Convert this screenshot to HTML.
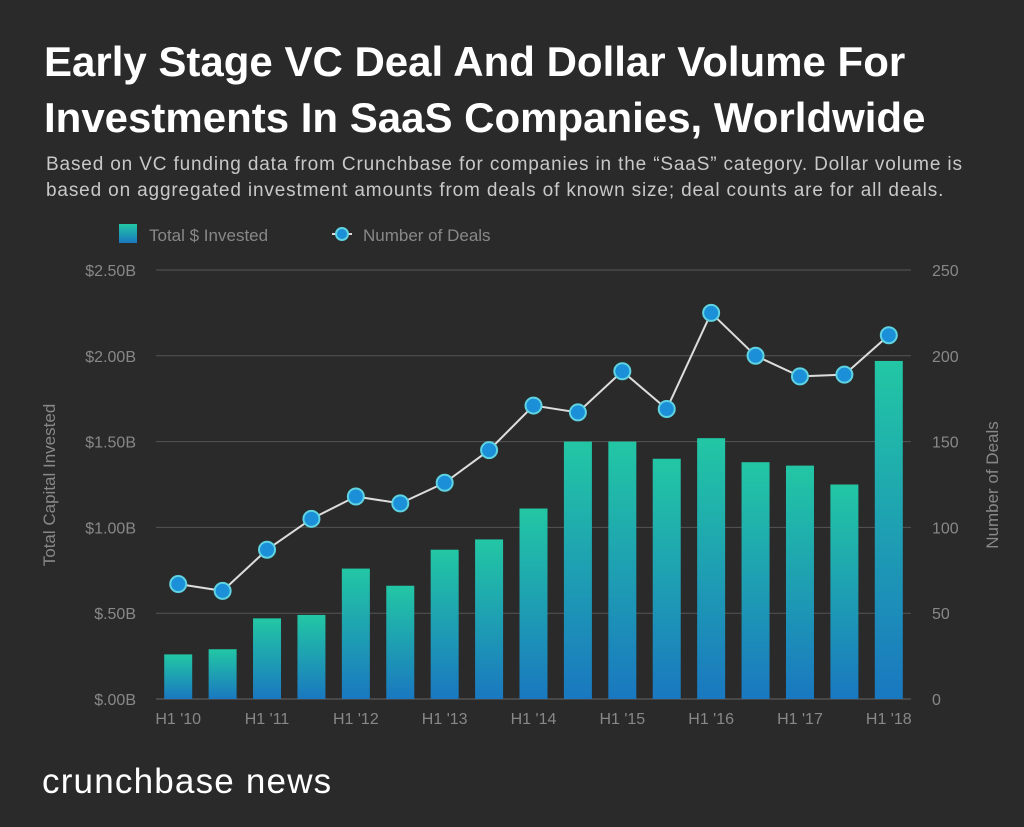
<!DOCTYPE html>
<html><head><meta charset="utf-8"><style>
body{margin:0;background:#2a2a2a;width:1024px;height:827px;overflow:hidden;font-family:"Liberation Sans",sans-serif}
.t{position:absolute;left:44px;color:#fff;font-weight:bold;font-size:42px;line-height:56px;top:34px;white-space:nowrap}
.s{position:absolute;left:46px;top:152px;color:#c8c8c8;font-size:19px;letter-spacing:0.85px;line-height:26px;white-space:nowrap}
.f{position:absolute;left:42px;top:762px;color:#fff;font-size:35px;letter-spacing:1.2px}
</style></head><body>
<div class="t">Early Stage VC Deal And Dollar Volume For<br>Investments In SaaS Companies, Worldwide</div>
<div class="s">Based on VC funding data from Crunchbase for companies in the “SaaS” category. Dollar volume is<br>based on aggregated investment amounts from deals of known size; deal counts are for all deals.</div>
<svg id="c" width="1024" height="827" style="position:absolute;left:0;top:0">
<defs><linearGradient id="g" x1="0" y1="0" x2="0" y2="1"><stop offset="0" stop-color="#22c7a4"/><stop offset="1" stop-color="#1a78c0"/></linearGradient></defs>
<g>
<rect x="119" y="224" width="18" height="19" fill="url(#g)"/>
<text x="149" y="241" fill="#888" font-size="17">Total $ Invested</text>
<line x1="332" y1="234" x2="352" y2="234" stroke="#ddd" stroke-width="2"/>
<circle cx="342" cy="234" r="6" fill="#1b8fd8" stroke="#5fd3e0" stroke-width="2"/>
<text x="363" y="241" fill="#888" font-size="17">Number of Deals</text>
</g>
<text transform="translate(55,485) rotate(-90)" text-anchor="middle" fill="#888" font-size="17">Total Capital Invested</text>
<text transform="translate(998,485) rotate(-90)" text-anchor="middle" fill="#888" font-size="17">Number of Deals</text>
</svg>
<div class="f">crunchbase news</div>
<script>
const categories=["H1 '10","H2 '10","H1 '11","H2 '11","H1 '12","H2 '12","H1 '13","H2 '13","H1 '14","H2 '14","H1 '15","H2 '15","H1 '16","H2 '16","H1 '17","H2 '17","H1 '18"];
const invested=[0.26,0.29,0.47,0.49,0.76,0.66,0.87,0.93,1.11,1.50,1.50,1.40,1.52,1.38,1.36,1.25,1.97];
const deals=[67,63,87,105,118,114,126,145,171,167,191,169,225,200,188,189,212];
const leftTicks=["$.00B","$.50B","$1.00B","$1.50B","$2.00B","$2.50B"];
const rightTicks=["0","50","100","150","200","250"];
const svg=document.getElementById('c'),NS="http://www.w3.org/2000/svg";
const y0=699,y1=270,x0=156,x1=911;
const yL=v=>y0-(v/2.5)*(y0-y1);
const yR=v=>y0-(v/250)*(y0-y1);
const step=(x1-x0)/categories.length;
const xc=i=>x0+step*(i+0.5);
function mk(t,a){const e=document.createElementNS(NS,t);for(const k in a)e.setAttribute(k,a[k]);svg.appendChild(e);return e;}
leftTicks.forEach((l,i)=>{const y=yL(i*0.5);
 if(i>0){const g=mk('line',{x1:x0,x2:x1,y1:y,y2:y,stroke:'#555','stroke-width':1});
 
 }
 const t=mk('text',{x:136,y:y+6,'text-anchor':'end',fill:'#888','font-size':16});t.textContent=l;
 
 });
rightTicks.forEach((l,i)=>{const t=mk('text',{x:932,y:yR(+l)+6,fill:'#888','font-size':16});t.textContent=l;
 
 });
const ax=mk('line',{x1:x0,x2:x1,y1:y0,y2:y0,stroke:'#666','stroke-width':1});


invested.forEach((v,i)=>{const r=mk('rect',{x:xc(i)-14,y:yL(v),width:28,height:y0-yL(v),fill:'url(#g)'});
 
 
 if(i%2==0){const t=mk('text',{x:xc(i),y:724,'text-anchor':'middle',fill:'#888','font-size':16});t.textContent=categories[i];
 
 }});
const pl=mk('polyline',{points:deals.map((d,i)=>xc(i)+','+yR(d)).join(' '),fill:'none',stroke:'#ddd','stroke-width':2});


deals.forEach((d,i)=>{const c=mk('circle',{cx:xc(i),cy:yR(d),r:8,fill:'#1b8fd8',stroke:'#5fd3e0','stroke-width':2});
 
 });
</script>
</body></html>
